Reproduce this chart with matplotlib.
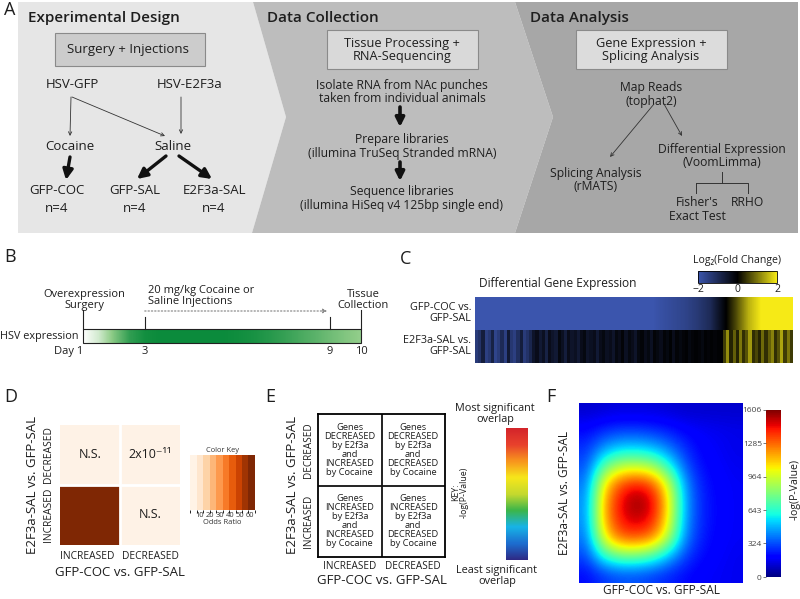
import numpy as np
import matplotlib
matplotlib.use("Agg")
import matplotlib.pyplot as plt
from matplotlib.patches import Polygon, Rectangle
from matplotlib.colors import LinearSegmentedColormap, ListedColormap, BoundaryNorm, Normalize
from matplotlib.cm import ScalarMappable

plt.rcParams['font.family'] = ['Open Sans', 'DejaVu Sans']
TXT = '#1e1e1e'

W, H = 800, 599

# ---------------- data ----------------
# B: timeline
timeline_days = [1, 3, 9, 10]
timeline_day_labels = ['Day 1', '3', '9', '10']
expr_days = [1.0, 1.5, 2.0, 2.5, 3.0, 3.5, 4.0, 4.5, 5.0, 5.5,
             6.0, 6.5, 7.0, 7.5, 8.0, 8.5, 9.0, 9.5, 10.0]
expr_level = [0.0, 0.2, 0.55, 0.85, 0.97, 1.0, 1.0, 1.0, 1.0, 1.0,
              0.98, 0.95, 0.9, 0.84, 0.77, 0.7, 0.62, 0.55, 0.48]

# C: log2 fold change strips (genes ordered by GFP-COC vs GFP-SAL)
dge_rows = ['GFP-COC vs.\nGFP-SAL', 'E2F3a-SAL vs.\nGFP-SAL']
coc_log2fc = [-2.3, -2.3, -2.3, -2.3, -2.3, -2.3, -2.3, -2.3, -2.3, -2.3,
              -2.3, -2.3, -2.2, -2.1, -1.9, -1.75, -1.6, -1.35, -1.0, -0.2,
              0.6, 1.5, 2.0, 2.2, 2.3]
e2f3a_log2fc = [-1.4, -1.2, -0.7, -1.5, -1.3, -0.8, -1.6, -1.4, -1.0, -1.5,
                -0.6, -1.3, -1.5, -1.1, -0.7, -1.4, -1.2, -0.9,
                -0.5, -0.3, -0.6, -0.4, -0.8, -0.3, -0.5, -0.6, -0.2, -0.4,
                -0.7, -0.3, -0.5, -0.4, -0.6, -0.3, -0.2, -0.5, -0.4, -0.3,
                -0.6, -0.3, -0.2, -0.4, -0.3, -0.5, -0.2, -0.3, -0.1, -0.4,
                -0.2, -0.3, -0.5, -0.2, -0.1, -0.3, -0.2, -0.4, -0.1, -0.2,
                -0.3, -0.1, -0.2, -0.05, -0.3, -0.1, -0.2, -0.1, -0.05, -0.2,
                -0.1, -0.05, -0.1, -0.2, -0.05, -0.1, -0.05, -0.1, -0.05, -0.02,
                0.5, 1.2, 0.3, 0.8, 0.3, 1.0, 0.4, 0.7, 1.3, 0.4,
                0.6, 0.3, 0.9, 0.4, 0.8, 1.1, 0.4, 0.7, 1.4, 0.5, 1.0, 0.5]
fc_ticks = [-2, 0, 2]

# D: Fisher's exact test
fisher_rows = ['DECREASED', 'INCREASED']
fisher_cols = ['INCREASED', 'DECREASED']
fisher_odds = [[1.2, 2.5],
               [61.0, 1.1]]
fisher_text = [['N.S.', '2x10\u207b\u00b9\u00b9'],
               ['', 'N.S.']]
odds_ticks = [10, 20, 30, 40, 50, 60]

# E: quadrant descriptions
quad_text = [['Genes\nDECREASED\nby E2f3a\nand\nINCREASED\nby Cocaine',
              'Genes\nDECREASED\nby E2f3a\nand\nDECREASED\nby Cocaine'],
             ['Genes\nINCREASED\nby E2f3a\nand\nINCREASED\nby Cocaine',
              'Genes\nINCREASED\nby E2f3a\nand\nDECREASED\nby Cocaine']]

# F: RRHO map (-log p), coarse grid, rows top->bottom
rrho_ticks = [0, 324, 643, 964, 1285, 1606]
rrho_grid = [
    [110, 120, 130, 130, 130, 120, 110, 110, 110, 110],
    [200, 250, 280, 280, 260, 230, 190, 170, 160, 150],
    [270, 430, 510, 520, 480, 380, 260, 190, 170, 150],
    [320, 720, 900, 920, 860, 620, 330, 210, 180, 160],
    [380, 1050, 1330, 1420, 1330, 950, 420, 240, 190, 170],
    [420, 1150, 1450, 1600, 1480, 1050, 450, 250, 200, 170],
    [420, 1150, 1430, 1520, 1430, 1020, 440, 250, 200, 170],
    [380, 1030, 1300, 1330, 1250, 900, 400, 240, 190, 170],
    [310, 650, 780, 780, 700, 500, 300, 210, 180, 160],
    [210, 280, 320, 320, 290, 250, 210, 180, 170, 160],
]

# ---------------- figure ----------------
fig = plt.figure(figsize=(8, 5.99), dpi=100)
ax0 = fig.add_axes([0, 0, 1, 1])
ax0.set_xlim(0, W)
ax0.set_ylim(H, 0)
ax0.axis('off')


def px_axes(x0, y0, x1, y1):
    return fig.add_axes([x0 / W, 1 - y1 / H, (x1 - x0) / W, (y1 - y0) / H])


def txt(x, y, s, size=9, **kw):
    kw.setdefault('ha', 'center')
    kw.setdefault('va', 'center')
    kw.setdefault('color', TXT)
    ax0.text(x, y, s, fontsize=size, **kw)


def arrow(x0, y0, x1, y1, thick=False, **kw):
    if thick:
        props = dict(arrowstyle='-|>', lw=2.4, mutation_scale=15, color='#111111',
                     shrinkA=0, shrinkB=0)
    else:
        props = dict(arrowstyle='->', lw=0.6, mutation_scale=6, color='#333333',
                     shrinkA=0, shrinkB=0)
    props.update(kw)
    ax0.annotate('', xy=(x1, y1), xytext=(x0, y0), arrowprops=props)


# ---- panel letters
for lab, x, y in [('A', 4, 10), ('B', 4, 257), ('C', 400, 259),
                  ('D', 4, 397), ('E', 265, 397), ('F', 546, 397)]:
    txt(x, y, lab, size=13, ha='left')

# ---- panel A background chevrons
ax0.add_patch(Polygon([(18, 2), (253, 2), (286, 117), (252, 233), (18, 233)],
                      closed=True, fc='#e6e6e6', ec='none'))
ax0.add_patch(Polygon([(253, 2), (515, 2), (553, 117), (515, 233), (252, 233), (286, 117)],
                      closed=True, fc='#bdbdbd', ec='none'))
ax0.add_patch(Polygon([(515, 2), (798, 2), (798, 233), (515, 233), (553, 117)],
                      closed=True, fc='#a7a7a7', ec='none'))

# section titles
txt(28, 18, 'Experimental Design', size=11, ha='left', fontweight='semibold')
txt(267, 18, 'Data Collection', size=11, ha='left', fontweight='semibold')
txt(530, 18, 'Data Analysis', size=11, ha='left', fontweight='semibold')

# boxes
for (x0, y0, x1, y1), fc in [((55, 33, 205, 66), '#cccccc'),
                             ((327, 30, 478, 69), '#d9d9d9'),
                             ((576, 30, 727, 69), '#dcdcdc')]:
    ax0.add_patch(Rectangle((x0, y0), x1 - x0, y1 - y0, fc=fc, ec='#8a8a8a', lw=0.8))
txt(128, 50, 'Surgery + Injections', size=9.5)
txt(402, 50, 'Tissue Processing +\nRNA-Sequencing', size=9.2, linespacing=1.05)
txt(651, 50, 'Gene Expression +\nSplicing Analysis', size=9.2, linespacing=1.05)

# experimental design tree
txt(72, 85, 'HSV-GFP', size=9.5)
txt(190, 85, 'HSV-E2F3a', size=9.5)
arrow(71, 97, 70, 136)
arrow(72, 97, 165, 136)
arrow(181, 97, 181, 134)
txt(70, 146, 'Cocaine', size=9.5)
txt(173, 146, 'Saline', size=9.5)
arrow(70, 157, 66, 180, thick=True)
arrow(166, 156, 137, 179, thick=True)
arrow(179, 156, 212, 179, thick=True)
for gx, g, n in zip([57, 135, 214], ['GFP-COC', 'GFP-SAL', 'E2F3a-SAL'], [4, 4, 4]):
    txt(gx, 190, g, size=9.5)
    txt(gx, 209, 'n=%d' % n, size=9.5)

# data collection
txt(402, 92, 'Isolate RNA from NAc punches\ntaken from individual animals', size=8.7, linespacing=1.1)
arrow(400, 107, 400, 127, thick=True, lw=2.6, mutation_scale=13)
txt(402, 146, 'Prepare libraries\n(illumina TruSeq Stranded mRNA)', size=8.7, linespacing=1.1)
arrow(400, 162, 400, 181, thick=True, lw=2.6, mutation_scale=13)
txt(402, 198, 'Sequence libraries\n(illumina HiSeq v4 125bp single end)', size=8.7, linespacing=1.1)

# data analysis
txt(651, 95, 'Map Reads\n(tophat2)', size=8.7, linespacing=1.1)
arrow(654, 104, 610, 157)
arrow(664, 104, 682, 136)
txt(722, 156, 'Differential Expression\n(VoomLimma)', size=8.7, linespacing=1.1)
txt(596, 180, 'Splicing Analysis\n(rMATS)', size=8.7, linespacing=1.1)
ax0.plot([722, 722], [172, 183], color='#333333', lw=0.7)
ax0.plot([696, 748, 748], [183, 183, 193], color='#333333', lw=0.7)
ax0.plot([696, 696], [183, 193], color='#333333', lw=0.7)
txt(697, 210, "Fisher's\nExact Test", size=8.7, linespacing=1.1)
txt(747, 203, 'RRHO', size=8.7)

# ---- panel B timeline
axB = px_axes(83, 288, 361, 360)
axB.set_xlim(1, 10)
axB.set_ylim(360, 288)
axB.axis('off')
green_cmap = LinearSegmentedColormap.from_list('g', ['#ffffff', '#8fcc88', '#0b8b3c'])
half = (expr_days[1] - expr_days[0]) / 2
axB.imshow(np.vstack([expr_level, expr_level]), cmap=green_cmap, vmin=0, vmax=1,
           aspect='auto', interpolation='bilinear',
           extent=(expr_days[0] - half, expr_days[-1] + half, 343, 329))
axB.add_patch(Rectangle((1, 329), 9, 14, fc='none', ec='#222222', lw=0.8, clip_on=False))
for d, lab in zip(timeline_days, timeline_day_labels):
    top = 310 if d in (1, 10) else 317
    axB.plot([d, d], [top, 329], color='#222222', lw=0.8, clip_on=False)
    axB.text(d, 352, lab, ha='right' if lab.startswith('Day') else 'center', va='center',
             fontsize=8, color=TXT)
axB.annotate('', xy=(9, 311), xytext=(3, 311),
             arrowprops=dict(arrowstyle='-|>', ls=':', lw=0.9, color='#8c8c8c',
                             mutation_scale=6, shrinkA=0, shrinkB=2))
txt(78, 336, 'HSV expression', size=7.8, ha='right')
txt(84, 300, 'Overexpression\nSurgery', size=8, linespacing=1.0)
txt(148, 296, '20 mg/kg Cocaine or\nSaline Injections', size=8, ha='left', linespacing=1.0)
txt(363, 300, 'Tissue\nCollection', size=8, linespacing=1.0)

# ---- panel C strips
fc_cmap = LinearSegmentedColormap.from_list('byk', ['#3b55ad', '#000000', '#f6ea16'])
axC = px_axes(475, 297, 793, 363)
axC.set_xlim(0, 1)
axC.set_ylim(2, 0)
axC.axis('off')
axC.imshow(np.vstack([coc_log2fc, coc_log2fc]), cmap=fc_cmap, vmin=-2, vmax=2,
           aspect='auto', interpolation='bilinear', extent=(0, 1, 1, 0))
axC.imshow(np.vstack([e2f3a_log2fc, e2f3a_log2fc]), cmap=fc_cmap, vmin=-2, vmax=2,
           aspect='auto', interpolation='nearest', extent=(0, 1, 2, 1.02))
for yy, lab in zip([313, 346], dge_rows):
    txt(471, yy, lab, size=7.8, ha='right', linespacing=1.05)
txt(558, 283, 'Differential Gene Expression', size=8.6)
axCk = px_axes(698, 271, 777, 283)
cbC = fig.colorbar(ScalarMappable(Normalize(-2, 2), fc_cmap), cax=axCk,
                   orientation='horizontal', ticks=fc_ticks)
cbC.outline.set_linewidth(0.6)
axCk.tick_params(labelsize=7.5, length=0, pad=1, colors=TXT)
txt(737, 261, 'Log\u2082(Fold Change)', size=7.6)

# ---- panel D heatmap
or_colors = plt.cm.Oranges(np.linspace(0.02, 1.0, 10))
or_cmap = ListedColormap(or_colors)
odds_norm = BoundaryNorm(np.linspace(0, 65, 11), or_cmap.N)
axD = px_axes(60, 425, 180, 545)
axD.imshow(fisher_odds, cmap=or_cmap, norm=odds_norm, extent=(0, 2, 2, 0), aspect='auto')
axD.set_xlim(0, 2)
axD.set_ylim(2, 0)
axD.axvline(1, color='white', lw=2)
axD.axhline(1, color='white', lw=2)
for sp in axD.spines.values():
    sp.set_visible(False)
axD.set_xticks([0.45, 1.5])
axD.set_xticklabels(fisher_cols, fontsize=7.4, color=TXT)
axD.set_yticks([0.5, 1.5])
axD.set_yticklabels(fisher_rows, fontsize=7.4, rotation=90, va='center', color=TXT)
axD.tick_params(length=0, pad=4)
axD.set_xlabel('GFP-COC vs. GFP-SAL', fontsize=9.5, color=TXT, labelpad=3)
axD.set_ylabel('E2F3a-SAL vs. GFP-SAL', fontsize=9.5, color=TXT, labelpad=3)
for i in range(2):
    for j in range(2):
        axD.text(j + 0.5, i + 0.5, fisher_text[i][j], ha='center', va='center',
                 fontsize=9, color=TXT)
axDk = px_axes(190, 455, 255, 510)
cbD = fig.colorbar(ScalarMappable(odds_norm, or_cmap), cax=axDk,
                   orientation='horizontal', ticks=odds_ticks)
cbD.outline.set_visible(False)
axDk.tick_params(labelsize=5.4, length=0, pad=1.5, colors='#333333')
axDk.set_xlabel('Odds Ratio', fontsize=5.4, color='#333333', labelpad=0)
axDk.set_title('Color Key', fontsize=5.4, color='#333333', pad=2)

# ---- panel E quadrant diagram
axE = px_axes(318, 414, 445, 557)
axE.set_xlim(0, 2)
axE.set_ylim(2, 0)
axE.set_xticks([0.5, 1.5])
axE.set_xticklabels(fisher_cols, fontsize=7.2, color=TXT)
axE.set_yticks([0.5, 1.5])
axE.set_yticklabels(fisher_rows, fontsize=7.2, rotation=90, va='center', color=TXT)
axE.tick_params(length=0, pad=3)
for sp in axE.spines.values():
    sp.set_linewidth(1.3)
axE.axvline(1, color='#111111', lw=1.3)
axE.axhline(1, color='#111111', lw=1.3)
for i in range(2):
    for j in range(2):
        axE.text(j + 0.5, i + 0.5, quad_text[i][j], ha='center', va='center',
                 fontsize=6.7, color=TXT, linespacing=1.0)
axE.set_xlabel('GFP-COC vs. GFP-SAL', fontsize=9.5, color=TXT, labelpad=1)
axE.set_ylabel('E2F3a-SAL vs. GFP-SAL', fontsize=9.5, color=TXT, labelpad=3)
key_cmap = LinearSegmentedColormap.from_list(
    'key', ['#2e2a85', '#1c6dcf', '#17b3e6', '#3bb54a', '#c5d92e', '#f6e61a',
            '#f7941d', '#e8412c', '#d3242a'])
axEk = px_axes(506, 428, 528, 560)
cbE = fig.colorbar(ScalarMappable(Normalize(0, 1), key_cmap), cax=axEk)
cbE.set_ticks([])
cbE.outline.set_visible(False)
txt(495, 414, 'Most significant\noverlap', size=7.8, linespacing=1.0)
txt(497, 576, 'Least significant\noverlap', size=7.8, linespacing=1.0)
txt(460, 492, 'KEY:\n-log(P-Value)', size=6.3, rotation=90, linespacing=1.0)

# ---- panel F RRHO map
axF = px_axes(579, 403, 743, 583)
imF = axF.imshow(rrho_grid, cmap='jet', vmin=0, vmax=rrho_ticks[-1],
                 interpolation='bicubic', aspect='auto', extent=(0, 1, 0, 1))
axF.set_xticks([])
axF.set_yticks([])
for sp in axF.spines.values():
    sp.set_visible(False)
axF.set_xlabel('GFP-COC vs. GFP-SAL', fontsize=8.6, color=TXT, labelpad=1)
axF.set_ylabel('E2F3a-SAL vs. GFP-SAL', fontsize=8.6, color=TXT, labelpad=6)
axFk = px_axes(766, 410, 781, 577)
cbF = fig.colorbar(imF, cax=axFk, ticks=rrho_ticks)
cbF.outline.set_visible(False)
axFk.yaxis.set_ticks_position('left')
axFk.tick_params(labelsize=6, length=2, width=0.5, pad=1, colors='#444444')
txt(795, 490, '-log(P-Value)', size=7.6, rotation=90)

fig.savefig('out.png', dpi=100)
